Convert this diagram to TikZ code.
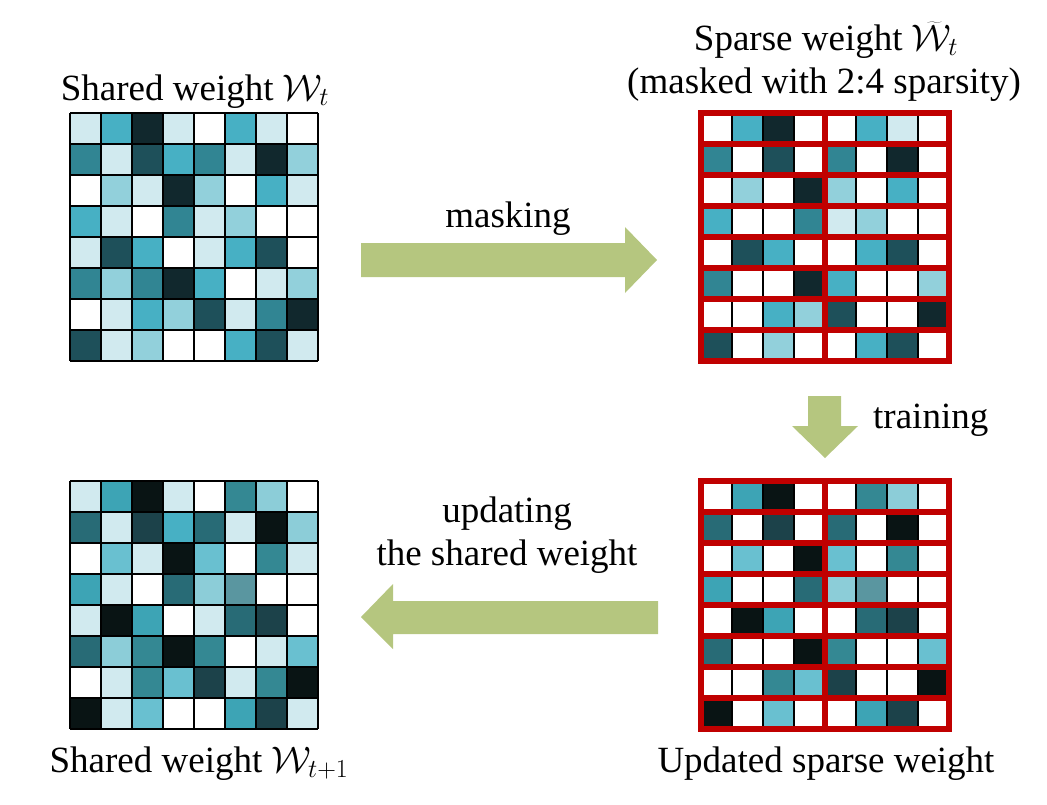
\documentclass[tikz,border=0pt]{standalone}
\usepackage{fix-cm}
\usepackage{fontspec}
\setmainfont{Liberation Serif}
\definecolor{gw}{HTML}{FFFFFF}
\definecolor{ga}{HTML}{D1EAEF}
\definecolor{gb}{HTML}{92D0DB}
\definecolor{gm}{HTML}{47B0C4}
\definecolor{gd}{HTML}{318593}
\definecolor{ge}{HTML}{1E505A}
\definecolor{gk}{HTML}{11282D}
\definecolor{gB}{HTML}{8CCDD8}
\definecolor{gM}{HTML}{3DA4B5}
\definecolor{gL}{HTML}{69C0D0}
\definecolor{gD}{HTML}{348893}
\definecolor{gE}{HTML}{286B76}
\definecolor{gG}{HTML}{5A96A0}
\definecolor{gF}{HTML}{1C424A}
\definecolor{gK}{HTML}{091414}
\definecolor{arrowgreen}{HTML}{B5C67F}
\definecolor{maskred}{HTML}{C00000}
\tikzset{
  lbl/.style={inner sep=0pt, anchor=base, font=\fontsize{37}{43}\selectfont},
  cellline/.style={draw=black, line width=2.7pt},
  redline/.style={draw=maskred, line width=6pt},
  blockarrow/.style={fill=arrowgreen, draw=none}
}
\newcommand{\drawgrid}[3]{%
  \foreach \r [count=\i] in {#3} {
    \foreach \c [count=\j] in \r {
      \fill[g\c] ({#1+(\j-1)*31},{#2+(\i-1)*31}) rectangle +(31,31);
    }
  }
  \foreach \k in {0,...,8} {
    \draw[cellline] ({#1+\k*31},{#2}) -- ({#1+\k*31},{#2+248});
    \draw[cellline] ({#1},{#2+\k*31}) -- ({#1+248},{#2+\k*31});
  }
}
\newcommand{\drawmask}[2]{%
  \foreach \i in {0,...,7} {
    \draw[redline] ({#1},{#2+\i*31}) rectangle +(124,31);
    \draw[redline] ({#1+124},{#2+\i*31}) rectangle +(124,31);
  }
}
\begin{document}
\begin{tikzpicture}[x=1pt,y=-1pt]
\useasboundingbox (0,0) rectangle (1047,804);
% grid 1: shared weight
\drawgrid{70}{113}{{a,m,k,a,w,m,a,w},{d,a,e,m,d,a,k,b},{w,b,a,k,b,w,m,a},{m,a,w,d,a,b,w,w},{a,e,m,w,a,m,e,w},{d,b,d,k,m,w,a,b},{w,a,m,b,e,a,d,k},{e,a,b,w,w,m,e,a}}
% grid 2: sparse weight
\drawgrid{701}{113}{{w,m,k,w,w,m,a,w},{d,w,e,w,d,w,k,w},{w,b,w,k,b,w,m,w},{m,w,w,d,a,b,w,w},{w,e,m,w,w,m,e,w},{d,w,w,k,m,w,w,b},{w,w,m,b,e,w,w,k},{e,w,b,w,w,m,e,w}}
\drawmask{701}{113}
% grid 3: updated shared weight
\drawgrid{70}{481}{{a,M,K,a,w,D,B,w},{E,a,F,m,E,a,K,B},{w,L,a,K,L,w,D,a},{M,a,w,E,B,G,w,w},{a,K,M,w,a,E,F,w},{E,B,D,K,D,w,a,L},{w,a,D,L,F,a,D,K},{K,a,L,w,w,M,F,a}}
% grid 4: updated sparse weight
\drawgrid{701}{481}{{w,M,K,w,w,D,B,w},{E,w,F,w,E,w,K,w},{w,L,w,K,L,w,D,w},{M,w,w,E,B,G,w,w},{w,K,M,w,w,E,F,w},{E,w,w,K,D,w,w,L},{w,w,D,L,F,w,w,K},{K,w,L,w,w,M,F,w}}
\drawmask{701}{481}
% block arrows
\fill[blockarrow] (361,243) -- (625,243) -- (625,227) -- (657,260) -- (625,293) -- (625,277) -- (361,277) -- cycle;
\fill[blockarrow] (808,396) -- (841,396) -- (841,426) -- (858,426) -- (825,458) -- (792,426) -- (808,426) -- cycle;
\fill[blockarrow] (658,601) -- (393,601) -- (393,584) -- (361,617) -- (393,649) -- (393,634) -- (658,634) -- cycle;
% labels
\node[lbl] (sharedt) at (195,100) {Shared weight $\mathcal{W}_t$};
\node[lbl] (sparse) at (826,50) {Sparse weight $\widetilde{\mathcal{W}}_t$};
\node[lbl] (maskedwith) at (824,93) {(masked with 2:4 sparsity)};
\node[lbl] (masking) at (508,227) {masking};
\node[lbl, anchor=base west] (training) at (873,428) {training};
\node[lbl] (updating) at (507,522) {updating};
\node[lbl] (theshared) at (507,565) {the shared weight};
\node[lbl] (sharedt1) at (199,772) {Shared weight $\mathcal{W}_{t+1}$};
\node[lbl] (updated) at (826,772) {Updated sparse weight};
\end{tikzpicture}
\end{document}
